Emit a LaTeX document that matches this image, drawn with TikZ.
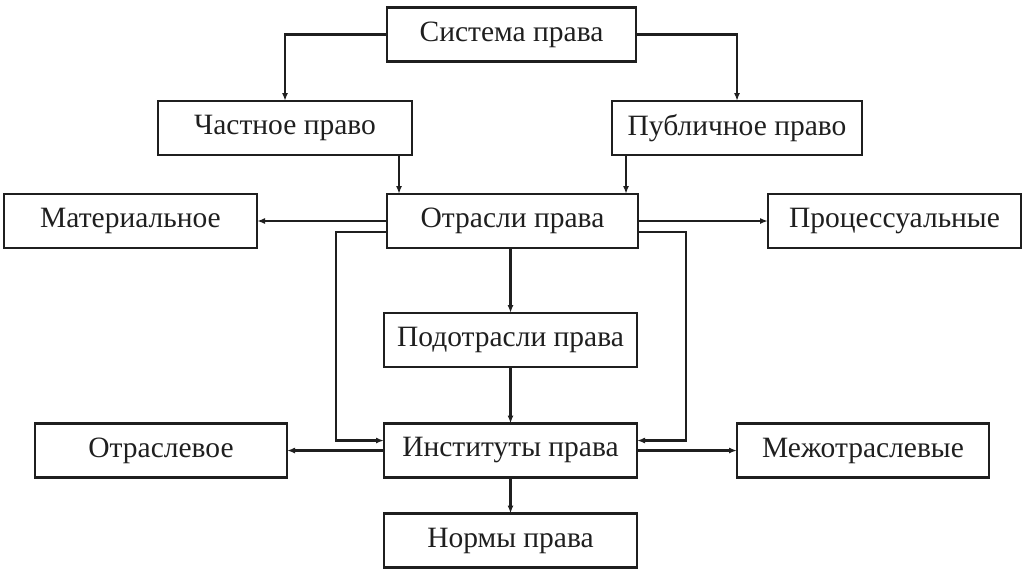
\documentclass[tikz,border=0pt]{standalone}
\usepackage{fontspec}
\setmainfont{Liberation Serif}
\usetikzlibrary{positioning,arrows.meta}
\definecolor{lineC}{gray}{0.12}

\begin{document}
\begin{tikzpicture}[
	x=1pt, y=-1pt,
	font=\fontsize{29.5}{34}\selectfont,
	Box/.style={draw=lineC, line width=2.6pt, minimum height=54pt,
		outer sep=0pt, inner sep=2pt, text=lineC},
	Link/.style={draw=lineC, line width=2.2pt, -{Latex[length=8pt, width=6pt]}},
	]
	\useasboundingbox (0,0) rectangle (1024,574);
	\node [Box, minimum width=249pt] (sys) at (511.5,34.5) {Система права};
	\node [Box, minimum width=254pt] (chast) at (285,128) {Частное право};
	\node [Box, minimum width=250pt] (publ) at (737,128) {Публичное право};
	\node [Box, minimum width=251pt] (otr) at (512.5,221) {Отрасли права};
	\node [Box, minimum width=253pt] (mat) at (130.5,221) {Материальное};
	\node [Box, minimum width=253pt] (proc) at (894.5,221) {Процессуальные};
	\node [Box, minimum width=253pt] (podotr) at (510.5,340) {Подотрасли права};
	\node [Box, minimum width=253pt] (inst) at (510.5,450.5) {Институты права};
	\node [Box, minimum width=252pt] (otrasl) at (161,450.5) {Отраслевое};
	\node [Box, minimum width=252pt] (mezh) at (863,450.5) {Межотраслевые};
	\node [Box, minimum width=253pt] (norm) at (510.5,540.5) {Нормы права};

	\draw [Link] (sys.west) -| (chast.north);
	\draw [Link] (sys.east) -| (publ.north);
	\draw [Link] ([xshift=12pt]otr.north west |- chast.south) -- ([xshift=12pt]otr.north west);
	\draw [Link] ([xshift=-12pt]otr.north east |- publ.south) -- ([xshift=-12pt]otr.north east);
	\draw [Link] (otr.west) -- (mat.east);
	\draw [Link] (otr.east) -- (proc.west);
	\draw [Link] ([yshift=-11pt]otr.west) -- ++(-51,0) |- ([yshift=10pt]inst.west);
	\draw [Link] ([yshift=-11pt]otr.east) -- ++(48,0) |- ([yshift=10pt]inst.east);
	\draw [Link] (podotr.north |- otr.south) -- (podotr.north);
	\draw [Link] (podotr.south) -- (inst.north);
	\draw [Link] (inst.west) -- (otrasl.east);
	\draw [Link] (inst.east) -- (mezh.west);
	\draw [Link] (inst.south) -- (norm.north);
\end{tikzpicture}
\end{document}
